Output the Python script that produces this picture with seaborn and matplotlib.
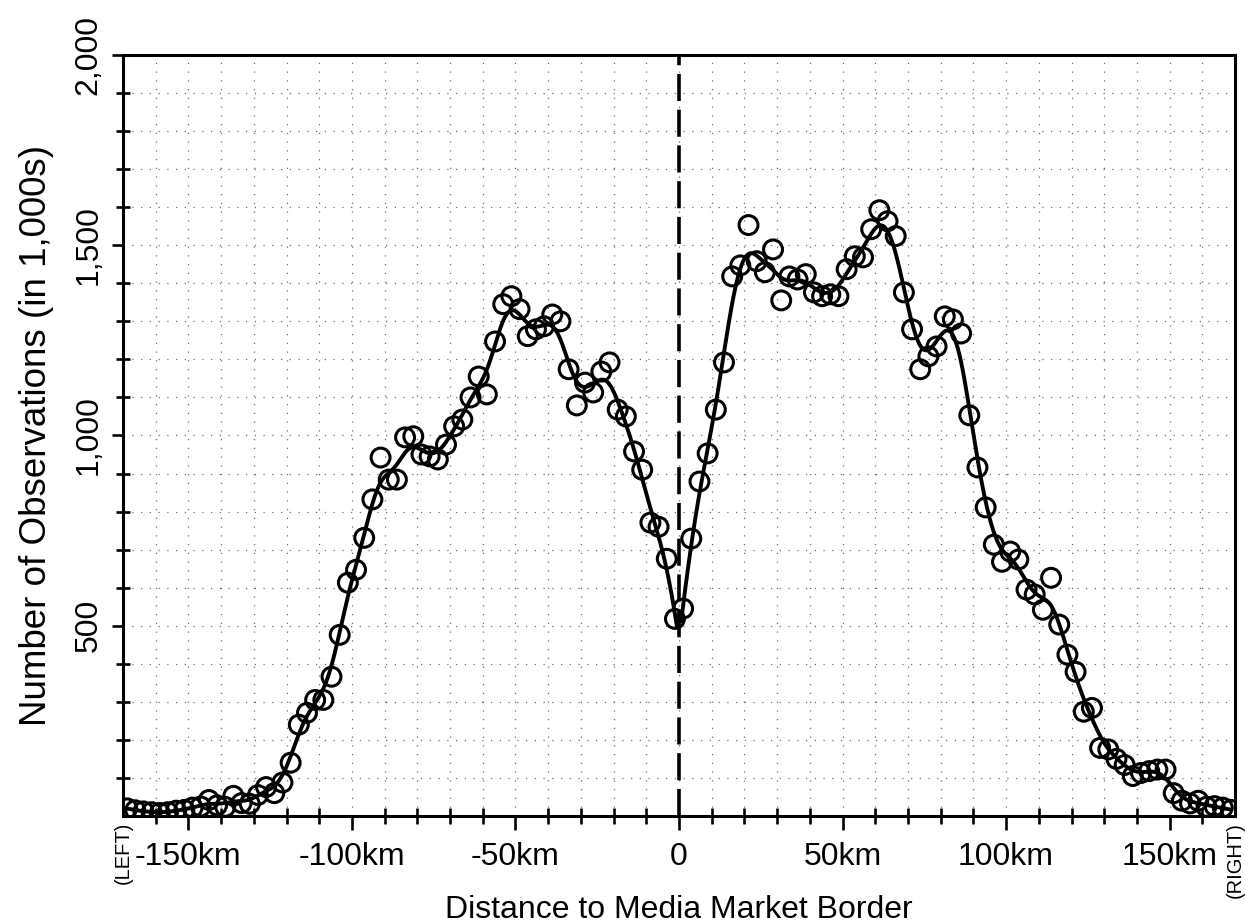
import numpy as np
import pandas as pd
import matplotlib
matplotlib.use("Agg")
import matplotlib.pyplot as plt
import seaborn as sns
from matplotlib.ticker import FixedLocator

# ---------------- data ----------------
left_km = [-168.75, -166.25, -163.75, -161.25, -158.75, -156.25, -153.75, -151.25,
           -148.75, -146.25, -143.75, -141.25, -138.75, -136.25, -133.75, -131.25,
           -128.75, -126.25, -123.75, -121.25, -118.75, -116.25, -113.75, -111.25,
           -108.75, -106.25, -103.75, -101.25, -98.75, -96.25, -93.75, -91.25,
           -88.75, -86.25, -83.75, -81.25, -78.75, -76.25, -73.75, -71.25,
           -68.75, -66.25, -63.75, -61.25, -58.75, -56.25, -53.75, -51.25,
           -48.75, -46.25, -43.75, -41.25, -38.75, -36.25, -33.75, -31.25,
           -28.75, -26.25, -23.75, -21.25, -18.75, -16.25, -13.75, -11.25,
           -8.75, -6.25, -3.75, -1.25]
left_obs = [20, 15, 12, 10, 8, 10, 14, 16,
            22, 25, 42, 28, 24, 53, 34, 32,
            55, 76, 60, 88, 140, 240, 271, 305,
            305, 366, 476, 613, 647, 731, 832, 942,
            884, 884, 995, 998, 950, 945, 937, 976,
            1024, 1042, 1100, 1155, 1108, 1247, 1345, 1366,
            1332, 1261, 1279, 1287, 1318, 1300, 1174, 1079,
            1139, 1113, 1168, 1192, 1068, 1050, 958, 910,
            771, 760, 676, 518]

right_km = [1.25, 3.75, 6.25, 8.75, 11.25, 13.75, 16.25, 18.75,
            21.25, 23.75, 26.25, 28.75, 31.25, 33.75, 36.25, 38.75,
            41.25, 43.75, 46.25, 48.75, 51.25, 53.75, 56.25, 58.75,
            61.25, 63.75, 66.25, 68.75, 71.25, 73.75, 76.25, 78.75,
            81.25, 83.75, 86.25, 88.75, 91.25, 93.75, 96.25, 98.75,
            101.25, 103.75, 106.25, 108.75, 111.25, 113.75, 116.25, 118.75,
            121.25, 123.75, 126.25, 128.75, 131.25, 133.75, 136.25, 138.75,
            141.25, 143.75, 146.25, 148.75, 151.25, 153.75, 156.25, 158.75,
            161.25, 163.75, 166.25, 168.75]
right_obs = [545, 729, 879, 953, 1068, 1192, 1418, 1447,
             1553, 1458, 1429, 1489, 1355, 1418, 1410, 1424,
             1376, 1366, 1371, 1366, 1437, 1471, 1468, 1542,
             1592, 1563, 1524, 1376, 1279, 1174, 1208, 1234,
             1313, 1305, 1268, 1053, 916, 811, 713, 668,
             695, 674, 595, 582, 542, 626, 503, 424,
             379, 274, 284, 179, 175, 150, 134, 105,
             113, 118, 122, 122, 60, 40, 33, 40,
             24, 26, 22, 16]

x_tick_values = [-150, -100, -50, 0, 50, 100, 150]
x_tick_labels = ["-150km", "-100km", "-50km", "0", "50km", "100km", "150km"]
y_tick_values = [500, 1000, 1500, 2000]
y_tick_labels = ["500", "1,000", "1,500", "2,000"]
x_label = "Distance to Media Market Border"
y_label = "Number of Observations (in 1,000s)"
side_left = "(LEFT)"
side_right = "(RIGHT)"


def local_linear(x, y, grid, h):
    x = np.asarray(x, float)
    y = np.asarray(y, float)
    out = np.empty(len(grid))
    for i, g in enumerate(grid):
        w = np.exp(-0.5 * ((x - g) / h) ** 2)
        d = x - g
        s0, s1, s2 = w.sum(), (w * d).sum(), (w * d * d).sum()
        t0, t1 = (w * y).sum(), (w * d * y).sum()
        out[i] = (s2 * t0 - s1 * t1) / (s0 * s2 - s1 * s1)
    return out


df = pd.DataFrame({"km": left_km + right_km, "obs": left_obs + right_obs})

gl = np.linspace(min(left_km), max(left_km) + 0.6, 500)
gr = np.linspace(min(right_km) - 0.6, max(right_km), 500)
fit_left = pd.DataFrame({"km": gl, "obs": local_linear(left_km, left_obs, gl, 3.0)})
fit_right = pd.DataFrame({"km": gr, "obs": local_linear(right_km, right_obs, gr, 3.0)})

# ---------------- style ----------------
sns.set_style("white")
plt.rcParams["font.family"] = ["Liberation Sans", "DejaVu Sans"]
plt.rcParams["text.color"] = "black"
plt.rcParams["axes.labelcolor"] = "black"
plt.rcParams["xtick.color"] = "black"
plt.rcParams["ytick.color"] = "black"

fig = plt.figure(figsize=(12.45, 9.24), dpi=100)
ax = fig.add_axes([0.0988, 0.1169, 0.8932, 0.8236])

ax.set_xlim(-170, 170)
ax.set_ylim(0, 2000)

grid_kw = dict(color="#6e6e6e", lw=0.9, ls=(0, (1, 6)))
ax.grid(True, which="both", **grid_kw)
ax.set_axisbelow(True)

ax.axvline(0, color="black", lw=2.6, ls=(0, (7.5, 2.4)), zorder=2)

sns.lineplot(data=fit_left, x="km", y="obs", ax=ax, color="black", lw=2.8,
             sort=False, estimator=None, zorder=3)
sns.lineplot(data=fit_right, x="km", y="obs", ax=ax, color="black", lw=2.8,
             sort=False, estimator=None, zorder=3)
sns.scatterplot(data=df, x="km", y="obs", ax=ax, marker="o", s=185,
                facecolors="none", edgecolor="black", linewidth=2.2, zorder=4)
for coll in ax.collections:
    coll.set_facecolor("none")
    coll.set_edgecolor("black")

ax.xaxis.set_major_locator(FixedLocator(x_tick_values))
ax.xaxis.set_minor_locator(FixedLocator([v for v in range(-160, 161, 10) if v % 50]))
ax.yaxis.set_major_locator(FixedLocator(y_tick_values))
ax.yaxis.set_minor_locator(FixedLocator([v for v in range(100, 2000, 100) if v % 500]))
ax.set_xticklabels(x_tick_labels)
ax.set_yticklabels(y_tick_labels, rotation=90, va="center")

ax.tick_params(axis="x", which="major", direction="out", length=10, width=1.9,
               labelsize=23, pad=9, bottom=True, top=False)
ax.tick_params(axis="x", which="minor", direction="inout", length=11, width=1.9,
               bottom=True, top=False)
ax.tick_params(axis="y", which="major", direction="out", length=8, width=1.9,
               labelsize=23, pad=6, left=True, right=False)
ax.tick_params(axis="y", which="minor", direction="inout", length=10, width=1.9,
               left=True, right=False)

for sp in ax.spines.values():
    sp.set_linewidth(2.2)
    sp.set_color("black")

ax.set_xlabel(x_label, fontsize=23, labelpad=16)
ax.set_ylabel(y_label, fontsize=26.5, labelpad=14)

trans = ax.get_xaxis_transform()
ax.text(-170, -0.008, side_left, transform=trans, rotation=90, fontsize=14.5,
        ha="center", va="top")
ax.text(170, -0.008, side_right, transform=trans, rotation=90, fontsize=14.5,
        ha="center", va="top")

fig.savefig("out.png", dpi=100, facecolor="white")
